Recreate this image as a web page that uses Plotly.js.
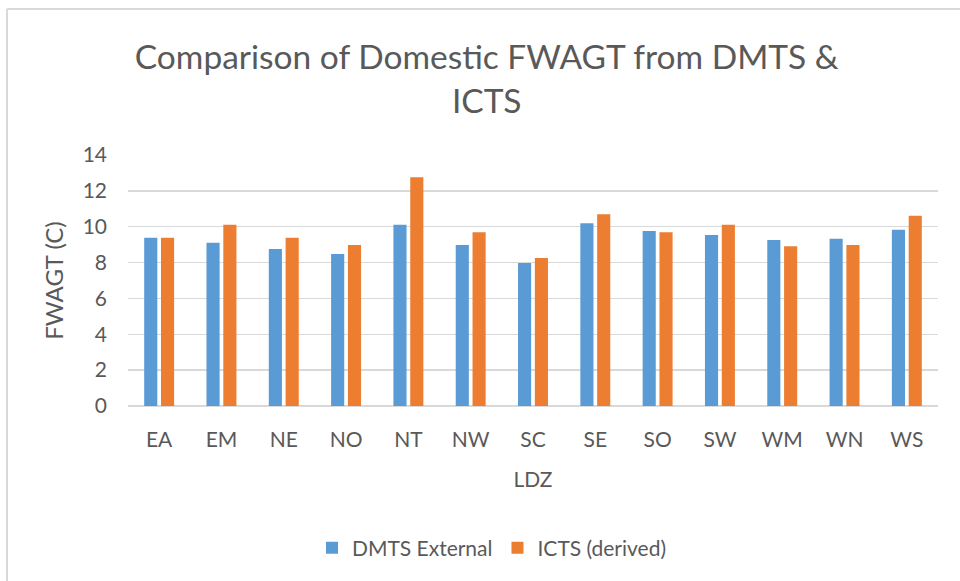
<!DOCTYPE html>
<html>
<head>
<meta charset="utf-8">
<script src="https://cdn.plot.ly/plotly-3.0.1.min.js"></script>
<style>
html,body{margin:0;padding:0;background:#fff;}
#chart{width:960px;height:581px;}
</style>
</head>
<body>
<div id="chart"></div>
<script>
const categories = ["EA","EM","NE","NO","NT","NW","SC","SE","SO","SW","WM","WN","WS"];
const dmtsExternal = [9.39, 9.11, 8.76, 8.48, 10.11, 8.98, 7.98, 10.19, 9.76, 9.54, 9.26, 9.33, 9.83];
const ictsDerived  = [9.39, 10.11, 9.39, 8.98, 12.76, 9.69, 8.26, 10.69, 9.69, 10.11, 8.91, 8.98, 10.61];
const yTicks = [0, 2, 4, 6, 8, 10, 12, 14];

const textColor = "#595959";
const font = "Lato, 'Open Sans', sans-serif";

const W = 960, H = 581;
const margin = {l: 128, r: 22, t: 155, b: 175};
const pw = W - margin.l - margin.r, ph = H - margin.t - margin.b;
const px2x = p => (p - margin.l) / pw;
const px2y = p => (H - margin.b - p) / ph;

const traces = [
  {type: "bar", name: "DMTS External", x: categories, y: dmtsExternal,
   marker: {color: "#5b9bd5"}},
  {type: "bar", name: "ICTS (derived)", x: categories, y: ictsDerived,
   marker: {color: "#ed7d31"}}
];

const layout = {
  width: W, height: H,
  margin: margin,
  paper_bgcolor: "#fff", plot_bgcolor: "#fff",
  font: {family: font, color: textColor, size: 21},
  title: {
    text: "Comparison of Domestic FWAGT from DMTS &<br>ICTS",
    font: {family: font, size: 33.5, color: textColor},
    x: 0.507, xanchor: "center", xref: "container",
    y: 1 - 69 / H, yanchor: "middle", yref: "container"
  },
  barmode: "group",
  bargap: 0.46,
  bargroupgap: 0.22,
  xaxis: {
    type: "category",
    showline: false, ticks: "", showgrid: false,
    tickfont: {size: 21, color: textColor},
    ticklabelstandoff: 19,
    title: {text: "LDZ", font: {size: 21, color: textColor}, standoff: 22}
  },
  yaxis: {
    range: [0, 14],
    tickvals: yTicks,
    ticktext: yTicks.map(String),
    showgrid: true, gridcolor: "#d9d9d9", gridwidth: 1.5,
    zeroline: true, zerolinecolor: "#d9d9d9", zerolinewidth: 1.5,
    showline: false, ticks: "",
    tickfont: {size: 21, color: textColor},
    ticklabelstandoff: 20,
    title: {text: "FWAGT (C)", font: {size: 24, color: textColor}, standoff: 12}
  },
  showlegend: true,
  legend: {
    orientation: "h",
    x: px2x(492), xanchor: "center",
    y: px2y(548), yanchor: "middle",
    font: {size: 21, color: textColor},
    itemwidth: 30,
    traceorder: "normal"
  },
  shapes: [
    {type: "line", xref: "paper", yref: "paper",
     x0: px2x(7), x1: px2x(7), y0: px2y(9), y1: px2y(H + 5),
     line: {color: "#d9d9d9", width: 2}},
    {type: "line", xref: "paper", yref: "paper",
     x0: px2x(7), x1: px2x(W + 5), y0: px2y(9), y1: px2y(9),
     line: {color: "#d9d9d9", width: 2}}
  ]
};

Plotly.newPlot("chart", traces, layout, {displayModeBar: false, staticPlot: true});
</script>
</body>
</html>
